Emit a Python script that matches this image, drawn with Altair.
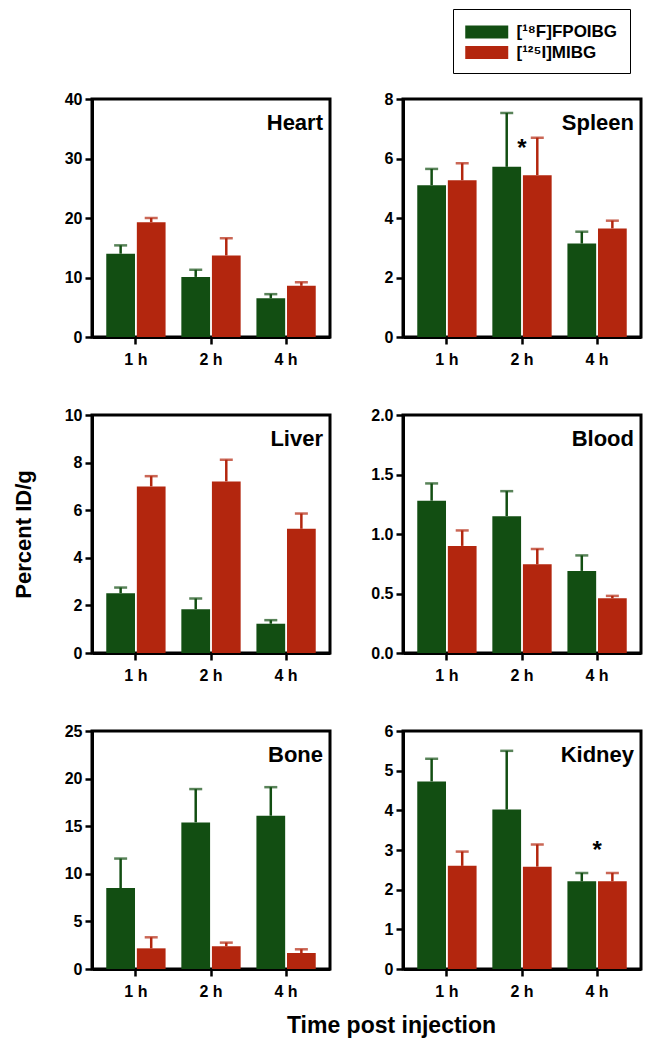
import altair as alt
import pandas as pd

times = ["1 h", "2 h", "4 h"]
series = ["[¹⁸F]FPOIBG", "[¹²⁵I]MIBG"]
colors = ["#124e12", "#b3260e"]

organs = ["Heart", "Spleen", "Liver", "Blood", "Bone", "Kidney"]

# means and SD (upper error only)
fpoibg_mean = {
    "Heart": [14.0, 10.1, 6.5],
    "Spleen": [5.10, 5.72, 3.14],
    "Liver": [2.51, 1.84, 1.23],
    "Blood": [1.28, 1.15, 0.69],
    "Bone": [8.5, 15.4, 16.1],
    "Kidney": [4.73, 4.02, 2.21],
}
fpoibg_sd = {
    "Heart": [1.4, 1.2, 0.7],
    "Spleen": [0.55, 1.81, 0.40],
    "Liver": [0.24, 0.45, 0.15],
    "Blood": [0.145, 0.21, 0.13],
    "Bone": [3.1, 3.5, 3.0],
    "Kidney": [0.57, 1.48, 0.21],
}
mibg_mean = {
    "Heart": [19.3, 13.7, 8.6],
    "Spleen": [5.27, 5.44, 3.65],
    "Liver": [7.00, 7.21, 5.22],
    "Blood": [0.90, 0.745, 0.46],
    "Bone": [2.17, 2.38, 1.68],
    "Kidney": [2.60, 2.58, 2.21],
}
mibg_sd = {
    "Heart": [0.7, 2.9, 0.6],
    "Spleen": [0.57, 1.26, 0.26],
    "Liver": [0.43, 0.91, 0.64],
    "Blood": [0.13, 0.13, 0.02],
    "Bone": [1.16, 0.39, 0.39],
    "Kidney": [0.36, 0.56, 0.21],
}
y_max = {"Heart": 40, "Spleen": 8, "Liver": 10, "Blood": 2.0, "Bone": 25, "Kidney": 6}
y_step = {"Heart": 10, "Spleen": 2, "Liver": 2, "Blood": 0.5, "Bone": 5, "Kidney": 1}
y_fmt = {"Heart": "d", "Spleen": "d", "Liver": "d", "Blood": ".1f", "Bone": "d", "Kidney": "d"}

# significance markers (organ -> (time, y position in data units))
stars = {"Spleen": ("2 h", 6.1), "Kidney": ("4 h", 2.8)}

y_title = "Percent ID/g"
x_title = "Time post injection"

FONT = "Liberation Sans"
W = 238
H = 238


def panel(organ):
    n = int(round(y_max[organ] / y_step[organ]))
    ticks = [round(i * y_step[organ], 3) for i in range(n + 1)]
    means = fpoibg_mean[organ] + mibg_mean[organ]
    sds = fpoibg_sd[organ] + mibg_sd[organ]
    df = pd.DataFrame({
        "time": times * 2,
        "series": [series[0]] * 3 + [series[1]] * 3,
        "mean": means,
        "upper": [m + s for m, s in zip(means, sds)],
    })
    x = alt.X("time:N", sort=times,
              scale=alt.Scale(domain=times, paddingInner=0.21, paddingOuter=0.19),
              axis=alt.Axis(title=None, labelAngle=0))
    xo = alt.XOffset("series:N", sort=series,
                     scale=alt.Scale(domain=series, paddingInner=0.06))
    color = alt.Color("series:N", sort=series,
                      scale=alt.Scale(domain=series, range=colors),
                      legend=alt.Legend(title=None))
    yaxis = alt.Axis(values=ticks, format=y_fmt[organ], grid=False,
                     title=y_title if organ == "Liver" else None)
    yscale = alt.Scale(domain=[0, y_max[organ]], nice=False, zero=True)
    y = alt.Y("mean:Q", scale=yscale, axis=yaxis)

    err = alt.Chart(df).mark_rule(strokeWidth=2.5).encode(
        x=x, xOffset=xo, y=y, y2="upper:Q", color=color)
    cap = alt.Chart(df).mark_tick(thickness=2.5, size=13).encode(
        x=x, xOffset=xo, y=alt.Y("upper:Q", scale=yscale, axis=yaxis), color=color)
    bars = alt.Chart(df).mark_bar().encode(x=x, xOffset=xo, y=y, color=color)

    lbl = alt.Chart(pd.DataFrame({"organ": [organ]})).mark_text(
        align="right", baseline="alphabetic", fontSize=22, fontWeight="bold",
        font=FONT, color="black"
    ).encode(text="organ:N", x=alt.value(W - 7), y=alt.value(31))

    layers = [err, cap, bars, lbl]
    if organ in stars:
        t, v = stars[organ]
        sdf = pd.DataFrame({"time": [t], "y": [v], "s": ["*"]})
        star = alt.Chart(sdf).mark_text(
            fontSize=24, fontWeight="bold", font=FONT, color="black",
            baseline="alphabetic", align="center"
        ).encode(x=alt.X("time:N", sort=times, scale=alt.Scale(domain=times), axis=alt.Axis(title=None, labelAngle=0)),
                 y=alt.Y("y:Q", scale=yscale, axis=yaxis), text="s:N")
        layers.append(star)
    return alt.layer(*layers).properties(width=W, height=H)


charts = [panel(o) for o in organs]

chart = alt.concat(*charts, columns=2, spacing={"row": 78, "column": 73}, bounds="flush").properties(
    title=alt.TitleParams(x_title, orient="bottom", anchor="middle", fontSize=23,
                          fontWeight="bold", font=FONT, offset=14, dx=65, color="black"),
    padding={"left": 2, "top": 0, "right": 5, "bottom": 0},
).configure_view(
    stroke="black", strokeWidth=3
).configure_axis(
    domainColor="black", domainWidth=3, tickColor="black", tickWidth=2.5, tickSize=7,
    labelFont=FONT, labelFontSize=16, labelFontWeight="bold", labelColor="black",
    titleFont=FONT, titleFontSize=22, titleFontWeight="bold", titleColor="black",
).configure_axisY(
    labelPadding=3, minExtent=35, maxExtent=35, titlePadding=22,
).configure_axisX(
    labelPadding=7,
).configure_legend(
    orient="none", legendX=361, legendY=-90,
    strokeColor="black", fillColor="white", padding=12, rowPadding=1.5,
    symbolType="M-1,-0.6H3V0.6H-1Z", symbolSize=462, symbolStrokeWidth=0,
    symbolOpacity=1,
    labelFont=FONT, labelFontSize=17, labelFontWeight="bold", labelColor="black",
    labelOffset=29.5,
)

chart.save("out.html", embed_options={"renderer": "svg", "actions": False})
